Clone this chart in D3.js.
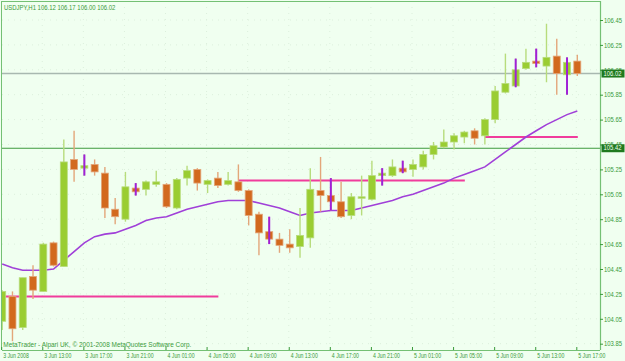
<!DOCTYPE html>
<html><head><meta charset="utf-8">
<script src="https://cdn.jsdelivr.net/npm/d3@7"></script>
<style>html,body{margin:0;padding:0;background:#f0fff0;overflow:hidden}</style>
</head><body><svg id="c" width="625" height="361"></svg>
<script>
// ---------- data ----------
const title = "USDJPY,H1  106.12 106.17 106.00 106.02";
const footer = "MetaTrader - Alpari UK, \u00A9 2001-2008 MetaQuotes Software Corp.";
const days = ["3 Jun", "4 Jun", "5 Jun"];
// hourly bars from 3 Jun 09:00 to 5 Jun 17:00 (categories)
const times = [];
days.forEach((d, di) => {
  for (let h = 0; h < 24; h++) {
    if (di === 0 && h < 9) continue;
    if (di === 2 && h > 17) continue;
    times.push(d + " " + String(h).padStart(2, "0") + ":00");
  }
});
const open  = [104.03,104.23,103.98,104.39,104.27,104.66,104.47,105.33,105.26,105.29,105.22,104.93,104.85,105.10,105.09,105.13,105.13,104.94,105.18,105.25,105.13,105.18,105.13,105.15,105.08,104.89,104.75,104.69,104.65,104.63,104.70,105.08,105.04,104.99,104.88,105.02,105.01,105.20,105.20,105.26,105.25,105.27,105.37,105.43,105.47,105.51,105.56,105.52,105.65,105.87,105.92,106.06,106.12,106.08,106.16,106.01,106.12];
const high  = [104.28,104.27,104.38,104.48,104.66,104.67,105.49,105.56,105.37,105.33,105.27,105.02,105.23,105.14,105.16,105.24,105.14,105.18,105.28,105.26,105.17,105.23,105.23,105.29,105.09,104.91,104.87,104.74,104.77,104.94,105.26,105.35,105.18,105.15,105.06,105.20,105.32,105.26,105.33,105.32,105.33,105.40,105.47,105.57,105.54,105.56,105.58,105.66,105.92,106.18,106.14,106.22,106.22,106.42,106.30,106.15,106.17];
const low   = [103.96,103.87,103.96,104.21,104.27,104.47,104.47,105.15,105.20,105.20,104.86,104.81,104.83,105.04,105.04,105.11,104.94,104.93,105.12,105.08,105.06,105.10,105.12,105.07,104.80,104.56,104.65,104.58,104.58,104.54,104.62,104.91,104.92,104.86,104.85,104.88,105.00,105.12,105.19,105.22,105.19,105.25,105.33,105.42,105.41,105.46,105.45,105.45,105.62,105.86,105.91,106.05,106.07,105.95,105.85,105.85,106.00];
const close = [104.27,103.97,104.38,104.28,104.65,104.48,105.31,105.25,105.28,105.23,104.94,104.87,105.11,105.07,105.15,105.15,104.95,105.17,105.24,105.14,105.16,105.12,105.16,105.08,104.88,104.74,104.69,104.64,104.62,104.72,105.09,105.04,104.99,104.87,105.03,105.03,105.20,105.22,105.27,105.23,105.29,105.37,105.44,105.47,105.52,105.55,105.50,105.65,105.88,105.94,106.05,106.11,106.10,106.15,106.02,106.11,106.02];
const ma    = [104.49,104.46,104.44,104.44,104.44,104.45,104.52,104.59,104.66,104.71,104.73,104.74,104.77,104.80,104.84,104.86,104.87,104.90,104.93,104.95,104.97,104.99,105.00,105.00,105.00,104.98,104.96,104.94,104.91,104.88,104.90,104.91,104.92,104.92,104.92,104.94,104.96,104.98,105.00,105.03,105.05,105.08,105.11,105.14,105.18,105.21,105.24,105.27,105.33,105.39,105.45,105.51,105.56,105.61,105.65,105.69,105.72];
const markedBars = [8, 13, 26, 32, 37, 39, 50, 52, 55];
const levelStart = [0, 23, 47];
const levelEnd   = [21, 45, 56];
const levelPrice = [104.23, 105.16, 105.51];
const bidPrice = 106.02;
const linePrice = 105.42;
const priceTicks = [103.85,104.05,104.25,104.45,104.65,104.85,105.05,105.25,105.45,105.65,105.85,106.05,106.25,106.45];
const tickTimes  = ["3 Jun 09:00","3 Jun 13:00","3 Jun 17:00","3 Jun 21:00","4 Jun 01:00","4 Jun 05:00","4 Jun 09:00","4 Jun 13:00","4 Jun 17:00","4 Jun 21:00","5 Jun 01:00","5 Jun 05:00","5 Jun 09:00","5 Jun 13:00","5 Jun 17:00"];
const tickLabels = ["3 Jun 2008","3 Jun 13:00","3 Jun 17:00","3 Jun 21:00","4 Jun 01:00","4 Jun 05:00","4 Jun 09:00","4 Jun 13:00","4 Jun 17:00","4 Jun 21:00","5 Jun 01:00","5 Jun 05:00","5 Jun 09:00","5 Jun 13:00","5 Jun 17:00"];

// ---------- setup ----------
const W = 625, H = 361;
const P = {l: 2, r: 600, t: 1, b: 350};
const FONT = "'Liberation Sans', Arial, sans-serif";
const C = {bg: "#f0fff0", frame: "#74c074", text: "#3a9a3a", up: "#9acd32", upW: "#b7dc7c",
           dn: "#d2691e", dnW: "#e3a67a", mark: "#a020d8", ma: "#a040d8", lvl: "#f03c9c",
           bid: "#a8b8b0", line: "#3e9a3e", grid: "#dcefdc", box: "#1f7a1f"};

const svg = d3.select("#c");
svg.append("rect").attr("width", W).attr("height", H).attr("fill", C.bg);

const x = d3.scalePoint().domain(times).range([2.2, 577.3]);
const y = d3.scaleLinear().domain([103.85, 106.45]).range([343.7, 20]);

function condense(sel, k) {
  sel.each(function () {
    const n = this.getComputedTextLength();
    d3.select(this).attr("textLength", n * k).attr("lengthAdjust", "spacingAndGlyphs");
  });
}

svg.append("clipPath").attr("id", "clip").append("rect")
  .attr("x", P.l).attr("y", P.t).attr("width", P.r - P.l).attr("height", P.b - P.t);
const g = svg.append("g").attr("clip-path", "url(#clip)");

// grid
g.selectAll(".hg").data(priceTicks).join("line")
  .attr("x1", P.l).attr("x2", P.r).attr("y1", d => y(d)).attr("y2", d => y(d))
  .attr("stroke", C.grid).attr("stroke-dasharray", "1,5");
g.selectAll(".vg").data(tickTimes).join("line")
  .attr("x1", d => x(d) - 1).attr("x2", d => x(d) - 1).attr("y1", P.t).attr("y2", P.b)
  .attr("stroke", C.grid).attr("stroke-dasharray", "1,5");

// horizontal price lines
g.append("line").attr("x1", P.l).attr("x2", P.r).attr("y1", y(bidPrice)).attr("y2", y(bidPrice))
  .attr("stroke", C.bid).attr("stroke-width", 1.5);
g.append("line").attr("x1", P.l).attr("x2", P.r).attr("y1", y(linePrice)).attr("y2", y(linePrice))
  .attr("stroke", C.line).attr("stroke-width", 1.2);

// pink level lines
g.selectAll(".lvl").data(levelPrice).join("line")
  .attr("x1", (d, i) => x(times[levelStart[i]]) - (levelStart[i] === 0 ? 5 : 0))
  .attr("x2", (d, i) => x(times[levelEnd[i]]) + 0.5)
  .attr("y1", d => y(d)).attr("y2", d => y(d))
  .attr("stroke", C.lvl).attr("stroke-width", 2);

// moving average
g.append("path").datum(ma)
  .attr("d", d3.line().x((d, i) => x(times[i])).y(d => y(d)))
  .attr("fill", "none").attr("stroke", C.ma).attr("stroke-width", 1.6);

// candles
const idx = d3.range(times.length);
const bw = 7;
g.selectAll(".wick").data(idx).join("line")
  .attr("x1", i => x(times[i])).attr("x2", i => x(times[i]))
  .attr("y1", i => y(high[i])).attr("y2", i => y(low[i]))
  .attr("stroke", i => close[i] >= open[i] ? C.upW : C.dnW).attr("stroke-width", 1.4);
g.selectAll(".body").data(idx).join("rect")
  .attr("x", i => x(times[i]) - bw / 2)
  .attr("y", i => y(Math.max(open[i], close[i])))
  .attr("width", bw)
  .attr("height", i => Math.max(1.5, Math.abs(y(open[i]) - y(close[i]))))
  .attr("fill", i => close[i] >= open[i] ? C.up : C.dn)
  .attr("stroke", i => close[i] >= open[i] ? C.upW : C.dnW).attr("stroke-width", 0.8);
g.selectAll(".mark").data(markedBars).join("line")
  .attr("x1", i => x(times[i])).attr("x2", i => x(times[i]))
  .attr("y1", i => y(high[i])).attr("y2", i => y(low[i]))
  .attr("stroke", C.mark).attr("stroke-width", 2);

// frame
svg.append("line").attr("x1", P.l).attr("x2", P.r).attr("y1", P.t + 0.5).attr("y2", P.t + 0.5).attr("stroke", C.frame);
svg.append("line").attr("x1", P.l - 0.5).attr("x2", P.l - 0.5).attr("y1", P.t).attr("y2", P.b).attr("stroke", C.frame);

// right axis
const ay = svg.append("g").attr("transform", `translate(${P.r},0)`)
  .call(d3.axisRight(y).tickValues(priceTicks).tickSize(3).tickPadding(1).tickFormat(d3.format(".2f")));
ay.select(".domain").attr("d", `M0.5,${P.t}V${P.b}`).attr("stroke", C.frame).attr("stroke-width", 1.2);
ay.selectAll(".tick line").attr("stroke", C.text);
ay.selectAll("text").attr("fill", C.text).style("font", `7px ${FONT}`);
condense(ay.selectAll("text"), 0.84);

// bottom axis
const ax = svg.append("g").attr("transform", `translate(0,${P.b})`)
  .call(d3.axisBottom(x).tickValues(tickTimes).tickSizeInner(-3).tickSizeOuter(0).tickPadding(3)
    .tickFormat((d, i) => tickLabels[i]));
ax.select(".domain").attr("d", `M${P.l},0.5H${P.r}`).attr("stroke", C.frame).attr("stroke-width", 1.2);
ax.selectAll(".tick line").attr("stroke", C.text).attr("transform", "translate(-1,0)");
ax.selectAll("text").attr("fill", C.text).style("font", `7px ${FONT}`)
  .attr("text-anchor", "start").attr("x", 0.5);
condense(ax.selectAll("text"), 0.74);

// price label boxes
[bidPrice, linePrice].forEach(p => {
  svg.append("rect").attr("x", P.r + 1.5).attr("y", y(p) - 4).attr("width", 23).attr("height", 8).attr("fill", C.box);
  const t = svg.append("text").attr("x", P.r + 3.5).attr("y", y(p)).attr("dy", "0.32em")
    .attr("fill", "#f0fff0").style("font", `7px ${FONT}`).text(d3.format(".2f")(p));
  condense(t, 0.84);
});

// title and footer
const tt = svg.append("text").attr("x", 4).attr("y", 9.5).attr("fill", C.text).style("font", `7px ${FONT}`).text(title);
condense(tt, 0.85);
const ft = svg.append("text").attr("x", 3.3).attr("y", 346.5).attr("fill", C.text).style("font", `7px ${FONT}`).text(footer);
ft.attr("textLength", 188).attr("lengthAdjust", "spacingAndGlyphs");
</script></body></html>
